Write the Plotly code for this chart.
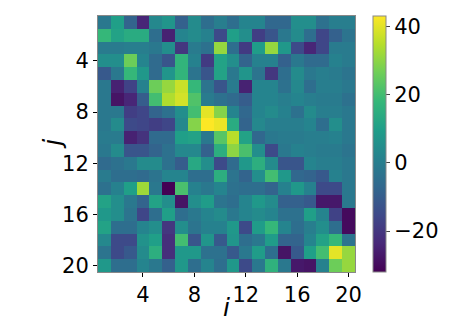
import plotly.graph_objects as go

# grid positions
i_vals = list(range(1, 21))
j_vals = list(range(1, 21))
tick_vals = [4, 8, 12, 16, 20]
cbar_ticks = [-20, 0, 20, 40]

# cell values, one row per j (top to bottom)
z = [
    [-2, 10, -8, -24, 3, 7, -9, 4, -5, 0, -5, 2, 2, -7, -7, 5, 5, -4, 0, 0],
    [18, 11, 14, 14, -5, -25, 2, 4, 1, -15, 10, 5, -18, -12, -2, 4, -5, -16, -9, -3],
    [-1, -1, 0, 0, -2, 5, -20, -1, -4, 31, -5, -19, 9, 31, 8, -15, -24, -16, -1, -1],
    [5, 5, 26, 2, -6, -12, 17, 1, -19, 11, 5, -8, 1, 1, -9, -2, -6, -6, 1, -1],
    [-11, -2, 18, 8, -6, 7, 17, -3, -12, 11, -2, 7, -3, -20, -5, 4, -2, 0, -1, -3],
    [-2, -25, -17, 1, 26, 31, 37, 18, -3, -12, -1, -25, 2, 2, -4, 3, -5, 0, 0, -2],
    [-2, -28, -24, -10, 20, 34, 38, 22, -1, -4, -6, -10, 2, 2, 0, 2, 0, -1, -1, -4],
    [-2, -2, -18, -16, -8, -4, 5, 20, 40, 29, 2, -7, 2, 4, 1, -4, 4, 0, 0, -2],
    [-2, 4, -15, -16, -18, -16, 3, 29, 43, 41, 14, -8, 3, 0, 0, 0, 2, -5, 5, -2],
    [-1, -1, -25, -21, -6, -6, 10, 11, -2, 23, 35, 11, -7, -2, -1, -1, 0, 0, 1, -2],
    [-2, 4, -12, -12, -8, -4, 3, 3, -9, 15, 30, 21, 5, -15, -2, 1, 0, -1, -1, -3],
    [-6, -4, -2, 4, 4, -4, -10, 13, 5, -15, -6, 8, 15, 4, -12, -12, 2, 0, 0, -2],
    [-1, -5, -5, -6, -3, 2, 2, -5, -5, 15, -3, -8, 5, 20, 8, -7, -8, -11, 1, -2],
    [-4, 1, 10, 32, -2, -32, 21, 1, -2, 2, -4, -5, -5, -8, 1, 8, 1, -15, -15, -2],
    [11, 5, -2, -8, 11, 5, -28, 5, 9, -3, -5, 2, 8, 4, -9, -9, -11, -27, -27, -2],
    [8, 5, -3, -16, -5, 10, -5, -2, 2, 4, -2, 2, 4, 2, -4, -4, 10, 2, -17, -30],
    [11, -5, -5, 2, 5, -20, 5, -3, 1, 1, 8, -15, 9, 18, 2, -5, 0, 5, -5, -30],
    [3, -15, -15, 6, 10, -22, 20, -12, 7, -11, 7, -5, -2, 9, -8, -8, 2, 11, 18, -3],
    [-3, -15, -11, 4, 15, -22, 8, 8, -4, -4, -11, -2, 9, -5, -28, -11, 10, 20, 40, 31],
    [8, -5, -5, 2, -2, -9, 8, -5, 2, -5, 8, -15, -2, 16, -2, -27, -28, 1, 26, 31],
]

fig = go.Figure(go.Heatmap(
    x=i_vals,
    y=j_vals,
    z=z,
    colorscale='Viridis',
    zmin=-32,
    zmax=43,
    colorbar=dict(
        x=1.07, xanchor='left', y=0.5, yanchor='middle',
        len=1, lenmode='fraction', thickness=13,
        xpad=0, ypad=0,
        outlinecolor='#888888', outlinewidth=1,
        tickvals=cbar_ticks, ticks='outside', ticklen=4,
        tickfont=dict(size=21, color='black'),
    ),
))

axis_style = dict(
    tickvals=tick_vals,
    ticks='outside', ticklen=4, tickcolor='black',
    showline=True, linecolor='#888888', linewidth=1, mirror=True,
    showgrid=False, zeroline=False, automargin=False,
    tickfont=dict(size=21, color='black'),
)

# the page body keeps its 8px margin, so the figure is 8px smaller
fig.update_layout(
    width=441, height=312,
    margin=dict(l=90, r=94, t=8, b=48, autoexpand=False),
    plot_bgcolor='white', paper_bgcolor='white',
    font=dict(family='DejaVu Sans', color='black'),
    xaxis=dict(axis_style, range=[0.5, 20.5]),
    yaxis=dict(axis_style, range=[20.5, 0.5]),
)

# axis labels placed by hand, like matplotlib's xlabel / ylabel
fig.add_annotation(text='<i>i</i>', xref='paper', yref='paper', x=0.5, y=-0.14,
                   showarrow=False, font=dict(size=25), xanchor='center', yanchor='middle')
fig.add_annotation(text='<i>j</i>', xref='paper', yref='paper', x=-0.18, y=0.5,
                   showarrow=False, font=dict(size=25), textangle=-90,
                   xanchor='center', yanchor='middle')

fig.write_html("out.html")
